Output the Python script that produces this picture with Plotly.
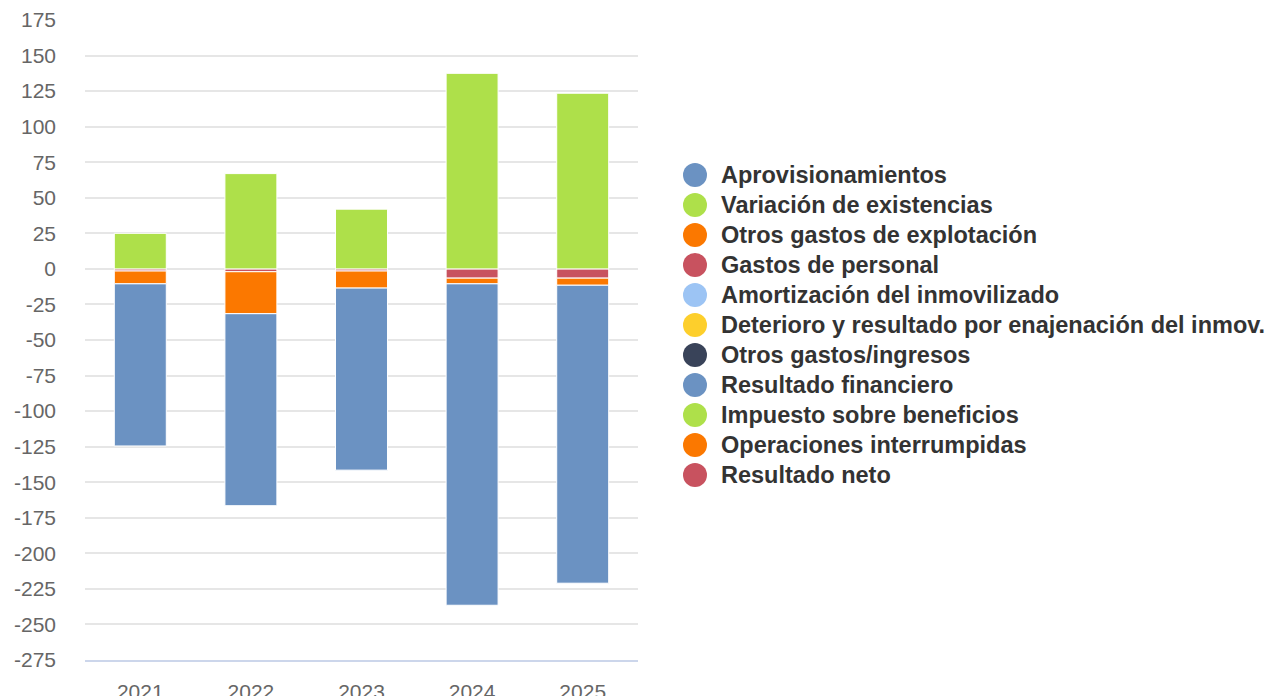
import plotly.graph_objects as go

# years on the x axis
years = ['2021', '2022', '2023', '2024', '2025']

# series, in legend order
series_names = [
    'Aprovisionamientos',
    'Variación de existencias',
    'Otros gastos de explotación',
    'Gastos de personal',
    'Amortización del inmovilizado',
    'Deterioro y resultado por enajenación del inmov.',
    'Otros gastos/ingresos',
    'Resultado financiero',
    'Impuesto sobre beneficios',
    'Operaciones interrumpidas',
    'Resultado neto',
]

aprovisionamientos = [-114, -135, -128, -226, -209.5]
variacion_existencias = [25, 67, 42, 137.5, 123.5]
otros_gastos_explotacion = [-9, -29.5, -12, -4, -5]
gastos_personal = [-1.5, -2, -1.5, -6.5, -6.5]
amortizacion = [0, 0, 0, 0, 0]
deterioro = [0, 0, 0, 0, 0]
otros_gastos_ingresos = [0, 0, 0, 0, 0]
resultado_financiero = [0, 0, 0, 0, 0]
impuesto_beneficios = [0, 0, 0, 0, 0]
operaciones_interrumpidas = [0, 0, 0, 0, 0]
resultado_neto = [0, 0, 0, 0, 0]

series_values = [
    aprovisionamientos, variacion_existencias, otros_gastos_explotacion,
    gastos_personal, amortizacion, deterioro, otros_gastos_ingresos,
    resultado_financiero, impuesto_beneficios, operaciones_interrumpidas,
    resultado_neto,
]

y_ticks = list(range(-275, 176, 25))
y_tick_labels = [str(v) for v in y_ticks]  # plain hyphen, not the unicode minus

colors = ['#6b92c2', '#aee04a', '#fb7800', '#c8525f', '#9cc4f4',
          '#fdcf2c', '#394359']
series_colors = [colors[i % len(colors)] for i in range(len(series_names))]

fig = go.Figure()

# highcharts puts the first series furthest from zero, so add them backwards
for name, vals, col in reversed(list(zip(series_names, series_values, series_colors))):
    fig.add_trace(go.Bar(
        x=years,
        y=vals,
        name=name,
        marker=dict(color=col, line=dict(color='white', width=1)),
        showlegend=False,
    ))

# the page body has an 8px margin, so the figure starts at (8, 8)
off = 8
fig_w, fig_h = 1280 - off, 696 - off

# plot area in window pixels
px_left, px_right, px_top, px_bottom = 85, 638, 20, 660
left = px_left - off
top = px_top - off
right = fig_w - (px_right - off)
bottom = fig_h - (px_bottom - off)
plot_w = px_right - px_left
plot_h = px_bottom - px_top

shapes = []
annotations = []
for i, (name, col) in enumerate(zip(series_names, series_colors)):
    cy = 175 + i * 30
    yp = (px_bottom - cy) / plot_h
    xp = (695 - px_left) / plot_w
    shapes.append(dict(
        type='circle', xref='paper', yref='paper',
        xsizemode='pixel', ysizemode='pixel',
        xanchor=xp, yanchor=yp,
        x0=-12, x1=12, y0=-12, y1=12,
        fillcolor=col, line=dict(width=0),
    ))
    annotations.append(dict(
        text='<b>' + name + '</b>', xref='paper', yref='paper',
        x=(719 - px_left) / plot_w, y=yp, xanchor='left', yanchor='middle',
        showarrow=False, font=dict(size=23.5, color='#333333'),
    ))

fig.update_layout(
    width=fig_w,
    height=fig_h,
    barmode='relative',
    bargap=0.53,
    margin=dict(l=left, r=right, t=top, b=bottom),
    plot_bgcolor='white',
    paper_bgcolor='white',
    font=dict(family='Liberation Sans, Arial, sans-serif', size=21, color='#666666'),
    shapes=shapes,
    annotations=annotations,
    showlegend=False,
)

fig.update_yaxes(
    range=[-275, 175],
    tickvals=y_ticks,
    ticktext=y_tick_labels,
    showgrid=True,
    gridcolor='#e6e6e6',
    gridwidth=2,
    zeroline=False,
    ticklabelstandoff=28,
    automargin=False,
)

fig.update_xaxes(
    showline=True,
    linecolor='#ccd6eb',
    linewidth=2,
    ticks='',
    ticklabelstandoff=12,
    automargin=False,
)

fig.write_html("out.html")
